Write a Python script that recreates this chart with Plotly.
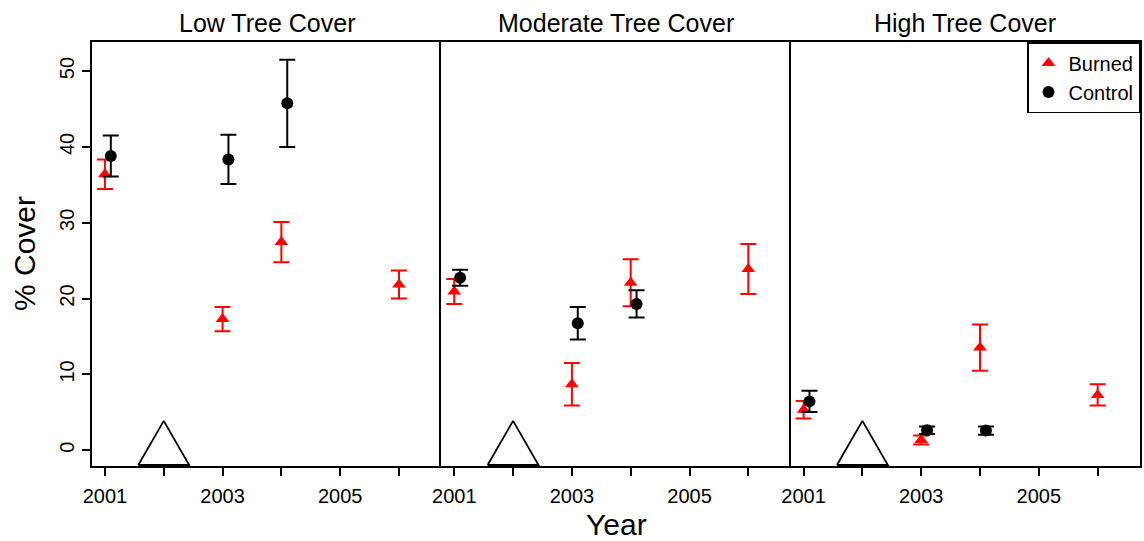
import plotly.graph_objects as go

# ---- data -------------------------------------------------------------
PANELS = ["Low Tree Cover", "Moderate Tree Cover", "High Tree Cover"]
YEARS_BURNED = [2001, 2003, 2004, 2006]
YEARS_CONTROL = [2001, 2003, 2004]
FIRE_YEAR = 2002

burned_low = [36.4, 17.3, 27.45, 21.85]
burned_low_se = [1.95, 1.6, 2.65, 1.85]
control_low = [38.8, 38.35, 45.75]
control_low_se = [2.7, 3.25, 5.75]

burned_mod = [20.95, 8.7, 22.1, 23.9]
burned_mod_se = [1.65, 2.8, 3.1, 3.3]
control_mod = [22.75, 16.75, 19.3]
control_mod_se = [1.05, 2.15, 1.8]

burned_high = [5.35, 1.35, 13.55, 7.3]
burned_high_se = [1.15, 0.6, 3.05, 1.4]
control_high = [6.45, 2.65, 2.6]
control_high_se = [1.4, 0.5, 0.55]

X_TICKS = [2001, 2002, 2003, 2004, 2005, 2006]
X_TICKTEXT = ["2001", "", "2003", "", "2005", ""]
Y_TICKS = [0, 10, 20, 30, 40, 50]

# ---- layout constants -------------------------------------------------
W, H = 1144, 541
ML, MR, MT, MB = 92, 2, 42, 75
X_RANGE = [2000.78, 2006.72]
Y_RANGE = [-2.07, 53.83]
CONTROL_DODGE = 0.1
FONT = "Liberation Sans, Arial, Helvetica, sans-serif"
RED = "#FF0000"

panel_w = (W - ML - MR) / 3
plot_h = H - MT - MB
dx = (X_RANGE[1] - X_RANGE[0]) / panel_w   # years per pixel
dy = (Y_RANGE[1] - Y_RANGE[0]) / plot_h    # % cover per pixel

burned = [(burned_low, burned_low_se), (burned_mod, burned_mod_se), (burned_high, burned_high_se)]
control = [(control_low, control_low_se), (control_mod, control_mod_se), (control_high, control_high_se)]

# Open equilateral triangle marking the fire year, centred at (FIRE_YEAR, 0)
tri_base_px = 51
tri_h_px = tri_base_px * 3 ** 0.5 / 2
tri_x = [FIRE_YEAR - tri_base_px / 2 * dx, FIRE_YEAR + tri_base_px / 2 * dx, FIRE_YEAR,
         FIRE_YEAR - tri_base_px / 2 * dx]
tri_y = [-tri_h_px / 3 * dy, -tri_h_px / 3 * dy, 2 * tri_h_px / 3 * dy, -tri_h_px / 3 * dy]

fig = go.Figure()

for i in range(3):
    xa = "x" if i == 0 else f"x{i + 1}"
    ya = "y" if i == 0 else f"y{i + 1}"
    fig.add_trace(go.Scatter(
        x=tri_x, y=tri_y, mode="lines", xaxis=xa, yaxis=ya,
        line=dict(color="black", width=1.8), showlegend=False, hoverinfo="skip"))
    b, bse = burned[i]
    fig.add_trace(go.Scatter(
        x=YEARS_BURNED, y=b, mode="markers", xaxis=xa, yaxis=ya,
        name="Burned", showlegend=(i == 0),
        marker=dict(symbol="triangle-up", size=12, color=RED),
        error_y=dict(type="data", array=bse, color=RED, thickness=2, width=8)))
    c, cse = control[i]
    fig.add_trace(go.Scatter(
        x=[yr + CONTROL_DODGE for yr in YEARS_CONTROL], y=c, mode="markers", xaxis=xa, yaxis=ya,
        name="Control", showlegend=(i == 0),
        marker=dict(symbol="circle", size=12, color="black"),
        error_y=dict(type="data", array=cse, color="black", thickness=2, width=8)))

axis_common = dict(showgrid=False, zeroline=False, ticks="outside", ticklen=8,
                   tickwidth=1.5, tickcolor="black", linewidth=2, linecolor="black",
                   tickfont=dict(family=FONT, size=20, color="black"))

layout = dict(
    width=W, height=H,
    margin=dict(l=ML, r=MR, t=MT, b=MB),
    paper_bgcolor="white", plot_bgcolor="white",
    font=dict(family=FONT, color="black"),
    legend=dict(x=1, y=1, xanchor="right", yanchor="top",
                bgcolor="white", bordercolor="black", borderwidth=1.5,
                font=dict(family=FONT, size=20, color="black"),
                itemsizing="trace"),
)
for i in range(3):
    sfx = "" if i == 0 else str(i + 1)
    layout[f"xaxis{sfx}"] = dict(axis_common, domain=[i / 3, (i + 1) / 3], range=X_RANGE,
                                 tickvals=X_TICKS, ticktext=X_TICKTEXT,
                                 showline=True, mirror=True, ticklabelstandoff=3,
                                 anchor="y" + sfx)
    # each panel draws its own left edge; only the last one also closes the right side
    yax = dict(axis_common, range=Y_RANGE, tickvals=Y_TICKS, tickangle=-90,
               showline=True, mirror=(i == 2), anchor="x" + sfx)
    if i > 0:
        yax.update(ticks="", showticklabels=False)
    layout[f"yaxis{sfx}"] = yax

fig.update_layout(**layout)

annotations = []
for i, title in enumerate(PANELS):
    annotations.append(dict(text=title, x=(i + 0.5) / 3, y=1, xref="paper", yref="paper",
                            xanchor="center", yanchor="middle", yshift=19, showarrow=False,
                            font=dict(family=FONT, size=25, color="black")))
annotations.append(dict(text="Year", x=0.5, y=0, xref="paper", yref="paper",
                        xanchor="center", yanchor="middle", yshift=-58, showarrow=False,
                        font=dict(family=FONT, size=30, color="black")))
annotations.append(dict(text="% Cover", x=0, y=0.5, xref="paper", yref="paper",
                        xanchor="center", yanchor="middle", xshift=-68, textangle=-90,
                        showarrow=False, font=dict(family=FONT, size=30, color="black")))
fig.update_layout(annotations=annotations)

fig.write_html("out.html")
